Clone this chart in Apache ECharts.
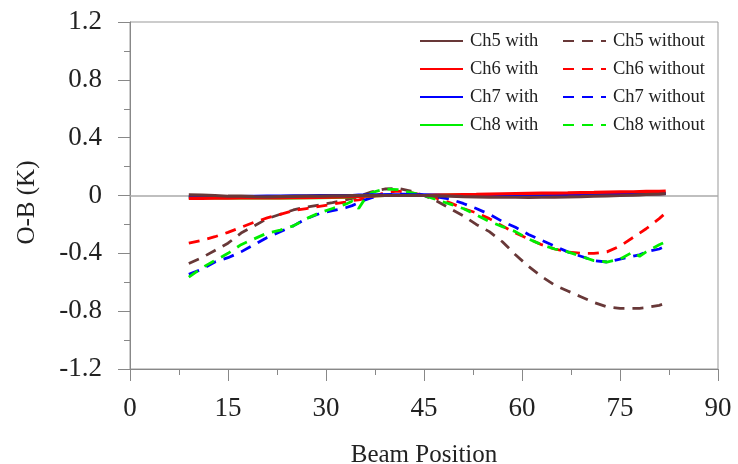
<!DOCTYPE html>
<html>
<head>
<meta charset="utf-8">
<script src="https://cdn.jsdelivr.net/npm/echarts@6/dist/echarts.min.js"></script>
<style>html,body{margin:0;padding:0;background:#fff}#c{width:738px;height:464px}</style>
</head>
<body>
<div id="c"></div>
<script>
const beamPositions = [9,11,13,15,17,19,21,23,25,27,29,31,33,34,35,36,37,39,41,43,45,47,49,51,53,55,57,59,61,63,65,67,69,71,73,75,77,78,79,81,82];

const ch5With = [0.005,0.003,0.0,-0.005,-0.005,-0.008,-0.01,-0.008,-0.006,-0.005,-0.004,-0.003,-0.002,-0.001,0.0,0.0,0.0,0.0,0.0,0.0,0.0,-0.002,-0.005,-0.008,-0.01,-0.012,-0.012,-0.012,-0.013,-0.012,-0.011,-0.01,-0.008,-0.005,-0.002,0.0,0.003,0.005,0.007,0.01,0.012];
const ch6With = [-0.02,-0.02,-0.018,-0.018,-0.017,-0.017,-0.016,-0.016,-0.015,-0.015,-0.014,-0.012,-0.01,-0.008,-0.006,-0.004,-0.002,0.0,0.0,0.0,0.0,0.003,0.005,0.007,0.008,0.01,0.012,0.014,0.015,0.016,0.017,0.018,0.02,0.021,0.023,0.025,0.026,0.027,0.028,0.029,0.03];
const ch7With = [-0.01,-0.01,-0.009,-0.008,-0.007,-0.006,-0.005,-0.004,-0.003,-0.002,-0.001,0.0,0.0,0.0,0.002,0.003,0.004,0.005,0.005,0.005,0.005,0.003,0.0,-0.002,-0.004,-0.005,-0.005,-0.005,-0.004,-0.003,-0.001,0.0,0.002,0.004,0.006,0.008,0.01,0.011,0.012,0.013,0.015];
const ch8With = [-0.015,-0.015,-0.016,-0.016,-0.016,-0.017,-0.017,-0.016,-0.016,-0.015,-0.015,-0.013,-0.011,-0.009,-0.007,-0.005,-0.003,0.0,0.0,0.0,0.0,0.001,0.002,0.003,0.004,0.005,0.005,0.006,0.006,0.007,0.008,0.009,0.01,0.011,0.012,0.013,0.014,0.014,0.015,0.015,0.015];

const ch5Without = [-0.47,-0.43,-0.38,-0.33,-0.26,-0.21,-0.16,-0.13,-0.10,-0.08,-0.065,-0.05,-0.03,-0.02,-0.01,0.01,0.025,0.045,0.05,0.03,0.0,-0.04,-0.09,-0.14,-0.2,-0.25,-0.32,-0.41,-0.49,-0.56,-0.62,-0.66,-0.70,-0.74,-0.77,-0.78,-0.78,-0.78,-0.775,-0.76,-0.745];
const ch6Without = [-0.33,-0.31,-0.285,-0.255,-0.22,-0.185,-0.155,-0.13,-0.105,-0.09,-0.075,-0.06,-0.045,-0.035,-0.03,-0.02,-0.01,0.02,0.03,0.02,0.0,-0.02,-0.05,-0.09,-0.12,-0.16,-0.21,-0.26,-0.30,-0.34,-0.37,-0.39,-0.40,-0.40,-0.39,-0.35,-0.29,-0.26,-0.23,-0.16,-0.12];
const ch7Without = [-0.545,-0.51,-0.46,-0.43,-0.39,-0.34,-0.29,-0.25,-0.21,-0.16,-0.125,-0.105,-0.085,-0.07,-0.05,-0.03,-0.015,0.005,0.01,0.01,0.0,-0.01,-0.025,-0.055,-0.09,-0.13,-0.18,-0.22,-0.27,-0.31,-0.35,-0.39,-0.42,-0.45,-0.46,-0.44,-0.42,-0.41,-0.39,-0.37,-0.35];
const ch8Without = [-0.565,-0.50,-0.45,-0.40,-0.34,-0.30,-0.26,-0.24,-0.21,-0.16,-0.12,-0.09,-0.06,-0.04,-0.09,-0.02,0.02,0.045,0.04,0.02,0.0,-0.03,-0.06,-0.09,-0.135,-0.18,-0.215,-0.25,-0.30,-0.34,-0.37,-0.39,-0.42,-0.45,-0.46,-0.44,-0.39,-0.42,-0.39,-0.34,-0.32];

const xTicks = {min: 0, max: 90, interval: 15};
const yTicks = {min: -1.2, max: 1.2, interval: 0.4};
const zeroLine = 0;

const colors = {ch5: '#683838', ch6: '#ff0000', ch7: '#0000ff', ch8: '#00ee00'};
const FONT = '"Liberation Serif", "DejaVu Serif", serif';

function pairs(vals) { return beamPositions.map((x, i) => [x, vals[i]]); }
function mk(name, vals, color, dashed) {
  return {
    name, type: 'line', data: pairs(vals), symbol: 'none', smooth: false,
    lineStyle: {color, width: dashed ? 2.8 : 3.2, type: dashed ? [11, 8] : 'solid'},
    itemStyle: {color}, z: dashed ? 3 : 4
  };
}

const series = [
  mk('Ch5 without', ch5Without, colors.ch5, true),
  mk('Ch6 without', ch6Without, colors.ch6, true),
  mk('Ch7 without', ch7Without, colors.ch7, true),
  mk('Ch8 without', ch8Without, colors.ch8, true),
  mk('Ch8 with', ch8With, colors.ch8, false),
  mk('Ch7 with', ch7With, colors.ch7, false),
  mk('Ch6 with', ch6With, colors.ch6, false),
  mk('Ch5 with', ch5With, colors.ch5, false)
];
series[0].markLine = {
  silent: true, symbol: 'none', label: {show: false},
  lineStyle: {color: '#aaaaaa', width: 1.5, type: 'solid'},
  data: [{yAxis: zeroLine}], z: 1
};

const legendCommon = {
  orient: 'vertical', itemWidth: 43, itemHeight: 14, itemGap: 8,
  itemStyle: {opacity: 0},
  textStyle: {fontFamily: FONT, fontSize: 18.5, color: '#222', lineHeight: 20, padding: [0, 0, 0, 2]},
  selectedMode: false
};

const chart = echarts.init(document.getElementById('c'), null, {renderer: 'canvas'});
chart.setOption({
  animation: false,
  backgroundColor: '#ffffff',
  grid: {left: 130, right: 20, top: 22, bottom: 95, show: true, borderColor: '#999', borderWidth: 1,
    outerBoundsMode: 'none', containLabel: false},
  legend: [
    Object.assign({}, legendCommon, {left: 414, top: 26, data: ['Ch5 with', 'Ch6 with', 'Ch7 with', 'Ch8 with']}),
    Object.assign({}, legendCommon, {left: 557, top: 26, data: ['Ch5 without', 'Ch6 without', 'Ch7 without', 'Ch8 without']})
  ],
  xAxis: {
    type: 'value', min: xTicks.min, max: xTicks.max, interval: xTicks.interval,
    name: 'Beam Position', nameLocation: 'middle', nameGap: 74,
    nameTextStyle: {fontFamily: FONT, fontSize: 25, color: '#222'},
    axisLine: {onZero: false, lineStyle: {color: '#888', width: 1}},
    axisTick: {show: true, inside: false, length: 12, lineStyle: {color: '#888'}},
    minorTick: {show: true, splitNumber: 2, length: 6, lineStyle: {color: '#888'}},
    splitLine: {show: false},
    axisLabel: {fontFamily: FONT, fontSize: 27, color: '#222', margin: 26}
  },
  yAxis: {
    type: 'value', min: yTicks.min, max: yTicks.max, interval: yTicks.interval,
    name: 'O-B (K)', nameLocation: 'middle', nameGap: 90, nameRotate: 90,
    nameTextStyle: {fontFamily: FONT, fontSize: 25, color: '#222', padding: [0, 14, 0, 0]},
    axisLine: {onZero: false, lineStyle: {color: '#888', width: 1}},
    axisTick: {show: true, inside: false, length: 12, lineStyle: {color: '#888'}},
    minorTick: {show: true, splitNumber: 2, length: 6, lineStyle: {color: '#888'}},
    splitLine: {show: false},
    axisLabel: {fontFamily: FONT, fontSize: 27, color: '#222', margin: 28,
      formatter: v => String(Math.round(v * 10) / 10)}
  },
  series
});
</script>
</body>
</html>
